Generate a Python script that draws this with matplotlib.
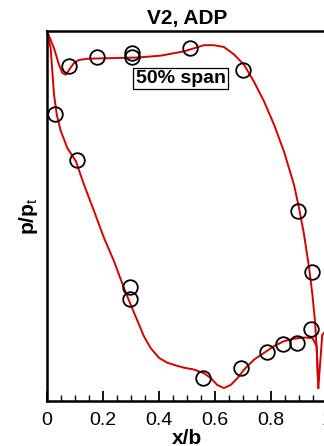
import matplotlib
matplotlib.use("Agg")
import matplotlib.pyplot as plt
from matplotlib.ticker import MultipleLocator, FixedLocator

plt.rcParams["font.family"] = ["Liberation Sans", "DejaVu Sans"]
plt.rcParams["mathtext.fontset"] = "custom"
plt.rcParams["mathtext.rm"] = "Liberation Sans"
plt.rcParams["mathtext.bf"] = "Liberation Sans:bold"

# blade surface pressure, computed: pressure side
ps_x = [0.000, 0.025, 0.043, 0.055, 0.067, 0.079, 0.096, 0.114, 0.144, 0.228,
        0.323, 0.406, 0.489, 0.525, 0.561, 0.596, 0.632, 0.668, 0.704, 0.739,
        0.775, 0.811, 0.846, 0.882, 0.900, 0.918, 0.936, 0.948, 0.957, 0.963,
        0.969]
ps_y = [1.000, 0.972, 0.945, 0.932, 0.929, 0.937, 0.948, 0.953, 0.955, 0.956,
        0.957, 0.960, 0.967, 0.972, 0.977, 0.977, 0.974, 0.962, 0.945, 0.918,
        0.886, 0.848, 0.805, 0.751, 0.713, 0.670, 0.616, 0.572, 0.530, 0.486,
        0.421]

# suction side, running on through the trailing edge
ss_x = [0.000, 0.013, 0.019, 0.025, 0.035, 0.049, 0.073, 0.103, 0.132, 0.168,
        0.204, 0.239, 0.275, 0.299, 0.323, 0.346, 0.370, 0.400, 0.430, 0.465,
        0.489, 0.525, 0.561, 0.585, 0.608, 0.632, 0.656, 0.680, 0.704, 0.739,
        0.775, 0.811, 0.846, 0.882, 0.918, 0.948, 0.963, 0.969, 0.983, 0.996]
ss_y = [1.000, 0.972, 0.935, 0.897, 0.864, 0.838, 0.810, 0.789, 0.751, 0.708,
        0.664, 0.627, 0.583, 0.556, 0.530, 0.505, 0.486, 0.470, 0.462, 0.457,
        0.454, 0.451, 0.445, 0.437, 0.426, 0.421, 0.426, 0.437, 0.451, 0.467,
        0.478, 0.489, 0.497, 0.501, 0.503, 0.502, 0.489, 0.421, 0.507, 0.514]

# measured taps
exp_x = [0.029, 0.107, 0.296, 0.296, 0.557, 0.693, 0.786, 0.843, 0.893, 0.943,
         0.079, 0.179, 0.304, 0.304, 0.511, 0.700, 0.896, 0.946]
exp_y = [0.865, 0.791, 0.585, 0.565, 0.437, 0.454, 0.479, 0.492, 0.494, 0.517,
         0.943, 0.958, 0.964, 0.958, 0.972, 0.937, 0.708, 0.609]

xticks = [0, 0.2, 0.4, 0.6, 0.8, 1.0]
xticklabels = ["0", "0.2", "0.4", "0.6", "0.8", "1"]

fig = plt.figure(figsize=(3.24, 4.46), dpi=100)
ax = fig.add_axes([47 / 324, 45 / 446, 280 / 324, 370 / 446])

red = "#d80000"
for xs, ys in ((ps_x, ps_y), (ss_x, ss_y)):
    ax.plot(xs, ys, color=red, lw=1.4, solid_joinstyle="round", clip_on=False)
ax.plot(exp_x, exp_y, "o", ms=10.5, mfc="none", mec="black", mew=1.3, clip_on=False)

ax.set_xlim(0, 1)
ax.set_ylim(0.4, 1.0)
ax.xaxis.set_major_locator(FixedLocator(xticks))
ax.set_xticklabels(xticklabels)
ax.xaxis.set_minor_locator(MultipleLocator(0.05))
ax.tick_params(axis="x", which="major", direction="in", length=7, width=1.3,
               labelsize=14, pad=8)
ax.tick_params(axis="x", which="minor", direction="in", length=4, width=1.0)
ax.set_yticks([])
for s in ax.spines.values():
    s.set_linewidth(1.8)

ax.set_title("V2, ADP", fontsize=15, fontweight="bold", pad=5)
ax.set_xlabel("x/b", fontsize=15, fontweight="bold", labelpad=0)
ax.set_ylabel(r"$\mathbf{p/p_{\rm t}}$", fontsize=15, labelpad=5)

ax.text(0.477, 0.872, "50% span", transform=ax.transAxes, fontsize=14,
        fontweight="bold", ha="center", va="center",
        bbox=dict(boxstyle="square,pad=0.12", fc="white", ec="black", lw=0.9))

fig.savefig("out.png", dpi=100)
